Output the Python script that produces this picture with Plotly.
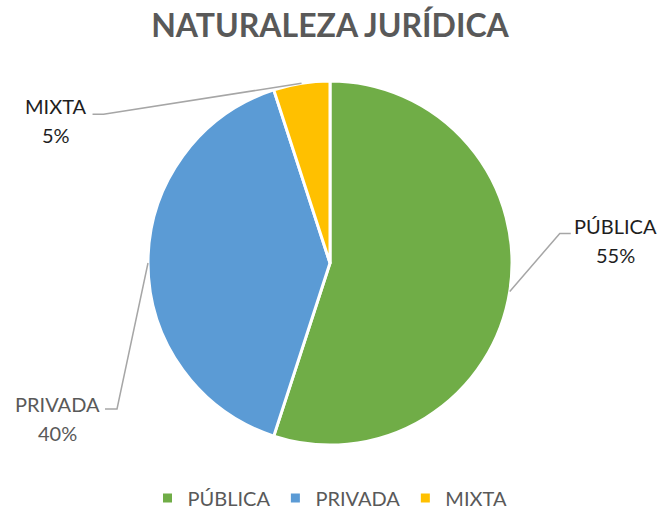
import math
import plotly.graph_objects as go

# ---- data ----
categories = ["PÚBLICA", "PRIVADA", "MIXTA"]
values = [55, 40, 5]
colors = ["#70AD47", "#5B9BD5", "#FFC000"]
title_text = "NATURALEZA JURÍDICA"

# ---- layout constants (pixels) ----
W, H = 664, 512
ML, MR, MT, MB = 0, 4, 81, 67
PW, PH = W - ML - MR, H - MT - MB
CX, CY = ML + PW / 2, MT + PH / 2
R = min(PW, PH) / 2
LINE_GAP = 29

def to_paper(px, py):
    return (px - ML) / PW, (H - MB - py) / PH

# label styling: (elbow offset from anchor, horizontal tail, label offset from tail end, color)
label_style = {
    "PÚBLICA": dict(elbow=(50, -58), tail=11, text=(45, 7), color="#1e1e1e"),
    "PRIVADA": dict(elbow=(-31, 146), tail=-12, text=(-48, 9), color="#595959"),
    "MIXTA": dict(elbow=(-198, 31), tail=-11, text=(-37, 6), color="#1e1e1e"),
}

total = sum(values)
shapes, annotations = [], []
cum = 0
for cat, v in zip(categories, values):
    mid = (cum + v / 2) / total * 2 * math.pi
    cum += v
    ax, ay = CX + R * math.sin(mid), CY - R * math.cos(mid)
    st = label_style[cat]
    ex, ey = ax + st["elbow"][0], ay + st["elbow"][1]
    tx, ty = ex + st["tail"], ey
    p = [to_paper(ax, ay), to_paper(ex, ey), to_paper(tx, ty)]
    shapes.append(dict(
        type="path", xref="paper", yref="paper",
        path=f"M {p[0][0]} {p[0][1]} L {p[1][0]} {p[1][1]} L {p[2][0]} {p[2][1]}",
        line=dict(color="#A6A6A6", width=1.5),
    ))
    cxl, cyl = tx + st["text"][0], ty + st["text"][1]
    for line_text, dy in ((cat, -LINE_GAP / 2), (f"{round(v / total * 100)}%", LINE_GAP / 2)):
        lx, ly = to_paper(cxl, cyl + dy)
        annotations.append(dict(
            x=lx, y=ly, xref="paper", yref="paper", showarrow=False,
            text=line_text,
            font=dict(family="Lato", size=20, color=st["color"]),
            align="center", xanchor="center", yanchor="middle",
        ))

fig = go.Figure(go.Pie(
    labels=categories, values=values, sort=False, direction="clockwise",
    rotation=0, textinfo="none", hoverinfo="label+percent",
    marker=dict(colors=colors, line=dict(color="white", width=3)),
))

fig.update_layout(
    width=W, height=H,
    margin=dict(l=ML, r=MR, t=MT, b=MB, autoexpand=False),
    paper_bgcolor="white", plot_bgcolor="white",
    title=dict(text=f"<b>{title_text}</b>", x=0.5, xanchor="center",
               y=1 - 26 / H, yanchor="middle", xref="paper",
               font=dict(family="Lato", size=32, color="#595959")),
    legend=dict(orientation="h", x=0.5, xanchor="center",
                y=(H - MB - 498) / PH, yanchor="middle",
                font=dict(family="Lato", size=20, color="#595959")),
    shapes=shapes, annotations=annotations,
)

fig.write_html("out.html", config={"displayModeBar": False},
               post_script="document.body.style.margin='0';document.body.style.overflow='hidden';")
